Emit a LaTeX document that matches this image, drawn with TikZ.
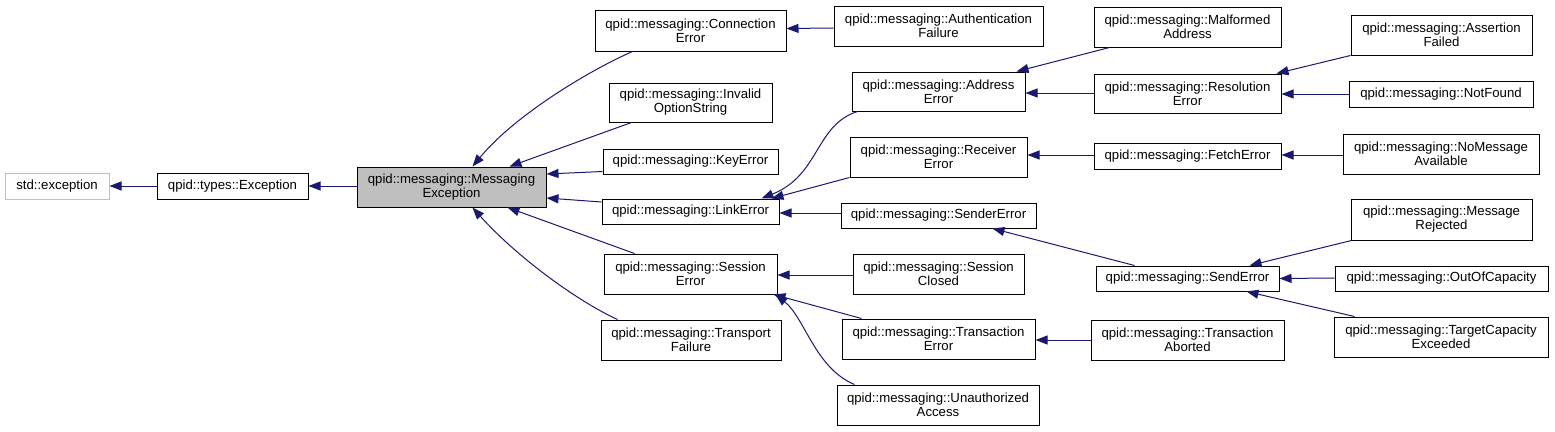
\documentclass[tikz,border=0pt]{standalone}
\usepackage{fontspec}
\setmainfont{Liberation Sans}
\usetikzlibrary{arrows.meta,calc}
\definecolor{edgeblue}{RGB}{25,25,112}
\definecolor{graybox}{RGB}{191,191,191}
\tikzset{
  box/.style={draw=black, line width=1pt, fill=white, inner sep=0pt, align=center,
    font=\fontsize{13.2}{14}\selectfont},
  rootbox/.style={box, draw=graybox},
  focusbox/.style={box, fill=graybox},
  edge/.style={draw=edgeblue, line width=1pt, -{Triangle[length=12pt,width=9pt]}},
}
\begin{document}
\begin{tikzpicture}[x=1pt,y=-1pt]
\useasboundingbox (0,0) rectangle (1555,431);
% column 0-2
\node[rootbox, minimum width=104, minimum height=26] (std) at (57,186) {std::exception};
\node[box, minimum width=151, minimum height=26] (types) at (232.5,186) {qpid::types::Exception};
\node[focusbox, minimum width=189, minimum height=40] (msg) at (451.5,187) {qpid::messaging::Messaging\\Exception};
% column 3
\node[box, minimum width=191, minimum height=41] (conn) at (690.5,30.5) {qpid::messaging::Connection\\Error};
\node[box, minimum width=163, minimum height=39] (inv) at (690.5,102.5) {qpid::messaging::Invalid\\OptionString};
\node[box, minimum width=175, minimum height=25] (key) at (690.5,161.5) {qpid::messaging::KeyError};
\node[box, minimum width=177, minimum height=25] (link) at (690.5,211.5) {qpid::messaging::LinkError};
\node[box, minimum width=173, minimum height=40] (sess) at (690.5,274) {qpid::messaging::Session\\Error};
\node[box, minimum width=180, minimum height=40] (trans) at (691,340) {qpid::messaging::Transport\\Failure};
% column 4
\node[box, minimum width=209, minimum height=40] (auth) at (938.5,26) {qpid::messaging::Authentication\\Failure};
\node[box, minimum width=173, minimum height=39] (addr) at (938.5,91.5) {qpid::messaging::Address\\Error};
\node[box, minimum width=177, minimum height=40] (recv) at (938.5,157) {qpid::messaging::Receiver\\Error};
\node[box, minimum width=195, minimum height=25] (sender) at (938.5,215.5) {qpid::messaging::SenderError};
\node[box, minimum width=171, minimum height=40] (sclosed) at (938.5,274) {qpid::messaging::Session\\Closed};
\node[box, minimum width=193, minimum height=40] (txerr) at (938.5,339) {qpid::messaging::Transaction\\Error};
\node[box, minimum width=202, minimum height=40] (unauth) at (938,405) {qpid::messaging::Unauthorized\\Access};
% column 5
\node[box, minimum width=187, minimum height=40] (malf) at (1187.5,27) {qpid::messaging::Malformed\\Address};
\node[box, minimum width=187, minimum height=39] (resol) at (1187.5,93.5) {qpid::messaging::Resolution\\Error};
\node[box, minimum width=187, minimum height=26] (fetch) at (1187.5,156) {qpid::messaging::FetchError};
\node[box, minimum width=183, minimum height=25] (senderr) at (1187.5,278.5) {qpid::messaging::SendError};
\node[box, minimum width=193, minimum height=40] (txab) at (1187.5,340) {qpid::messaging::Transaction\\Aborted};
% column 6
\node[box, minimum width=181, minimum height=40] (assert) at (1441.5,35) {qpid::messaging::Assertion\\Failed};
\node[box, minimum width=184, minimum height=26] (notfound) at (1441,94) {qpid::messaging::NotFound};
\node[box, minimum width=196, minimum height=40] (nomsg) at (1441,154) {qpid::messaging::NoMessage\\Available};
\node[box, minimum width=181, minimum height=41] (msgrej) at (1441.5,219.5) {qpid::messaging::Message\\Rejected};
\node[box, minimum width=213, minimum height=25] (ooc) at (1441.5,278.5) {qpid::messaging::OutOfCapacity};
\node[box, minimum width=214, minimum height=40] (target) at (1441,337) {qpid::messaging::TargetCapacity\\Exceeded};

% edges
\draw[edge] (types.west) -- (std.east);
\draw[edge] ($(msg.west)+(0,-1)$) -- ($(types.east)+(0,0)$);
\draw[edge] ($(conn.south west)+(38,0)$) .. controls (590,70) and (515,115) .. ($(msg.north west)+(116,0)$);
\draw[edge] ($(inv.south west)+(23,0)$) -- ($(msg.north west)+(153,0)$);
\draw[edge] ($(key.west)+(0,10)$) -- ($(msg.east)+(0,-13)$);
\draw[edge] ($(link.west)+(0,-9.5)$) -- ($(msg.east)+(0,11)$);
\draw[edge] ($(sess.north west)+(31,0)$) -- ($(msg.south west)+(151,0)$);
\draw[edge] ($(trans.north west)+(17,0)$) .. controls (575,300) and (515,255) .. ($(msg.south west)+(116,0)$);
\draw[edge] ($(auth.west)+(0,2)$) -- ($(conn.east)+(0,-2)$);
\draw[edge] ($(addr.south west)+(6,0)$) .. controls (815,125) and (820,175) .. ($(link.north west)+(160,0)$);
\draw[edge] (recv.south west) -- ($(link.north west)+(170,0)$);
\draw[edge] ($(sender.west)+(0,-2.5)$) -- ($(link.east)+(0,1.5)$);
\draw[edge] ($(malf.south west)+(16,0)$) -- ($(addr.north west)+(165,0)$);
\draw[edge] ($(resol.west)+(0,-0.5)$) -- ($(addr.east)+(0,1.5)$);
\draw[edge] (assert.south west) -- ($(resol.north west)+(183,0)$);
\draw[edge] (notfound.west) -- ($(resol.east)+(0,0.5)$);
\draw[edge] ($(fetch.west)+(0,-1)$) -- ($(recv.east)+(0,-2)$);
\draw[edge] ($(nomsg.west)+(0,1)$) -- ($(fetch.east)+(0,-1)$);
\draw[edge] ($(senderr.north west)+(39,0)$) -- ($(sender.south west)+(152,0)$);
\draw[edge] ($(msgrej.south west)+(1,0)$) -- ($(senderr.north west)+(154,0)$);
\draw[edge] ($(ooc.west)+(0,-0.5)$) -- (senderr.east);
\draw[edge] ($(target.north west)+(21,0)$) -- ($(senderr.south west)+(151,0)$);
\draw[edge] ($(sclosed.west)+(0,1)$) -- ($(sess.east)+(0,1)$);
\draw[edge] ($(txerr.north west)+(20,0)$) -- ($(sess.south east)+(-4,0)$);
\draw[edge] ($(unauth.north west)+(18,0)$) .. controls (815,368) and (805,318) .. ($(sess.south east)+(-2,0)$);
\draw[edge] (txab.west) -- ($(txerr.east)+(0,1)$);
\end{tikzpicture}
\end{document}
